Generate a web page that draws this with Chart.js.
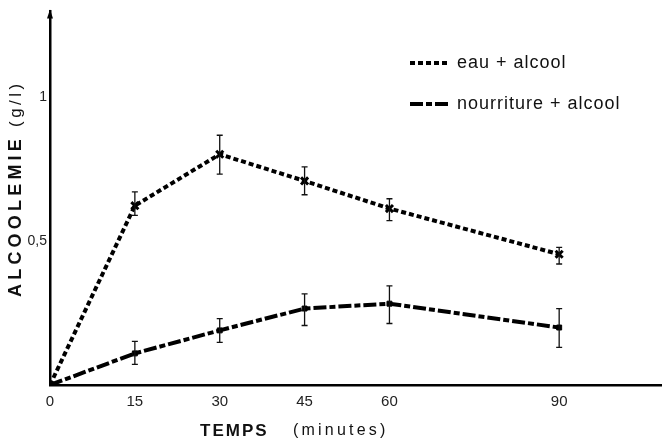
<!DOCTYPE html>
<html>
<head>
<meta charset="utf-8">
<script src="https://cdn.jsdelivr.net/npm/chart.js@4.4.0/dist/chart.umd.js"></script>
<style>
  html, body { margin: 0; padding: 0; background: #fff; }
  #wrap { width: 662px; height: 442px; position: relative; }
</style>
</head>
<body>
<div id="wrap"><canvas id="alcChart" width="662" height="442"></canvas></div>
<script>
// temps (minutes)
const times = [0, 15, 30, 45, 60, 90];
const xTickValues = [0, 15, 30, 45, 60, 90];
const yTickValues = [0.5, 1];
const yTickLabels = ['0,5', '1'];

// eau + alcool
const eauAlcool = [0, 0.624, 0.803, 0.710, 0.614, 0.455];
const eauLow = [null, 0.590, 0.734, 0.662, 0.572, 0.421];
const eauHigh = [null, 0.672, 0.869, 0.759, 0.648, 0.479];

// nourriture + alcool
const nourAlcool = [0, 0.110, 0.190, 0.266, 0.283, 0.200];
const nourLow = [null, 0.072, 0.148, 0.207, 0.214, 0.131];
const nourHigh = [null, 0.152, 0.231, 0.317, 0.345, 0.266];

const seriesNames = ['eau + alcool', 'nourriture + alcool'];
const xTitle = ['TEMPS', '(minutes)'];
const yTitle = ['ALCOOLEMIE', '(g/l)'];

const FONT = '"Liberation Sans", Arial, sans-serif';

function toPoints(ys) {
    return times.map((t, i) => ({ x: t, y: ys[i] }));
}

// error bars, drawn through the chart scales
const errorBars = {
    id: 'errorBars',
    afterDatasetsDraw(chart) {
        const ctx = chart.ctx;
        const xs = chart.scales.x, ys = chart.scales.y;
        const sets = [[eauLow, eauHigh], [nourLow, nourHigh]];
        ctx.save();
        ctx.strokeStyle = '#111';
        ctx.lineWidth = 1.3;
        sets.forEach(([lo, hi]) => {
            times.forEach((t, i) => {
                if (lo[i] == null) return;
                const px = xs.getPixelForValue(t);
                const y1 = ys.getPixelForValue(lo[i]);
                const y2 = ys.getPixelForValue(hi[i]);
                ctx.beginPath();
                ctx.moveTo(px, y1); ctx.lineTo(px, y2);
                ctx.moveTo(px - 3, y1); ctx.lineTo(px + 3, y1);
                ctx.moveTo(px - 3, y2); ctx.lineTo(px + 3, y2);
                ctx.stroke();
            });
        });
        ctx.restore();
    }
};

// axis titles, arrow and legend
const decor = {
    id: 'decor',
    afterDraw(chart) {
        const ctx = chart.ctx;
        const area = chart.chartArea;
        ctx.save();
        // arrow at the top of the y axis
        ctx.fillStyle = '#000';
        ctx.beginPath();
        ctx.moveTo(area.left, area.top - 2);
        ctx.lineTo(area.left - 3, area.top + 7);
        ctx.lineTo(area.left + 3, area.top + 7);
        ctx.closePath();
        ctx.fill();

        // x title
        ctx.fillStyle = '#111';
        ctx.textBaseline = 'middle';
        ctx.textAlign = 'left';
        ctx.letterSpacing = '2px';
        ctx.font = 'bold 17px ' + FONT;
        ctx.fillText(xTitle[0], 200, 431);
        ctx.letterSpacing = '3.2px';
        ctx.font = '16px ' + FONT;
        ctx.fillText(xTitle[1], 293, 431);

        // y title (rotated)
        ctx.save();
        ctx.translate(16, 297);
        ctx.rotate(-Math.PI / 2);
        ctx.font = 'bold 18px ' + FONT;
        ctx.letterSpacing = '4.2px';
        ctx.fillText(yTitle[0], 0, 0);
        const w = ctx.measureText(yTitle[0]).width;
        ctx.font = '17px ' + FONT;
        ctx.letterSpacing = '3.5px';
        ctx.fillText(yTitle[1], w + 8, 0);
        ctx.restore();

        // legend
        ctx.letterSpacing = '1px';
        ctx.font = '18px ' + FONT;
        chart.data.datasets.forEach((ds, i) => {
            const y = 63 + i * 41;
            ctx.save();
            ctx.strokeStyle = '#000';
            ctx.lineWidth = 4;
            ctx.setLineDash(ds.borderDash);
            ctx.beginPath();
            ctx.moveTo(410, y); ctx.lineTo(448, y);
            ctx.stroke();
            ctx.restore();
            ctx.fillText(seriesNames[i], 457, y);
        });
        ctx.restore();
    }
};

new Chart(document.getElementById('alcChart'), {
    type: 'line',
    data: {
        datasets: [
            {
                label: seriesNames[0],
                data: toPoints(eauAlcool),
                borderColor: '#000',
                borderWidth: 4,
                borderDash: [5, 3],
                borderCapStyle: 'butt',
                pointStyle: 'crossRot',
                pointRadius: [0, 5, 5, 5, 5, 5],
                pointBorderWidth: 3,
                pointBorderColor: '#000',
                pointBackgroundColor: '#000',
                tension: 0
            },
            {
                label: seriesNames[1],
                data: toPoints(nourAlcool),
                borderColor: '#000',
                borderWidth: 4,
                borderDash: [13, 3, 6, 3],
                borderCapStyle: 'butt',
                pointStyle: 'rect',
                pointRadius: [0, 3.5, 3.5, 3.5, 3.5, 3.5],
                pointBorderWidth: 1,
                pointBorderColor: '#000',
                pointBackgroundColor: '#000',
                tension: 0
            }
        ]
    },
    options: {
        responsive: false,
        animation: false,
        devicePixelRatio: 1,
        layout: { autoPadding: false, padding: { top: 8, right: 1, left: 0, bottom: 0 } },
        plugins: {
            legend: { display: false },
            tooltip: { enabled: false }
        },
        scales: {
            x: {
                type: 'linear',
                min: 0,
                max: 108,
                afterBuildTicks: axis => {
                    axis.ticks = xTickValues.map(v => ({ value: v }));
                },
                afterFit: axis => { axis.height = 57; },
                grid: { display: false, drawTicks: false },
                border: { display: true, color: '#000', width: 2.5 },
                ticks: {
                    autoSkip: false,
                    maxRotation: 0,
                    padding: 8,
                    color: '#222',
                    font: { family: FONT, size: 15 },
                    callback: v => String(v)
                }
            },
            y: {
                min: 0,
                max: 1.3,
                afterBuildTicks: axis => {
                    axis.ticks = yTickValues.map(v => ({ value: v }));
                },
                afterFit: axis => { axis.width = 50; },
                grid: { display: false, drawTicks: false },
                border: { display: true, color: '#000', width: 2.5 },
                ticks: {
                    autoSkip: false,
                    padding: 3,
                    color: '#222',
                    font: { family: FONT, size: 14 },
                    callback: v => yTickLabels[yTickValues.indexOf(v)]
                }
            }
        }
    },
    plugins: [errorBars, decor]
});
</script>
</body>
</html>
